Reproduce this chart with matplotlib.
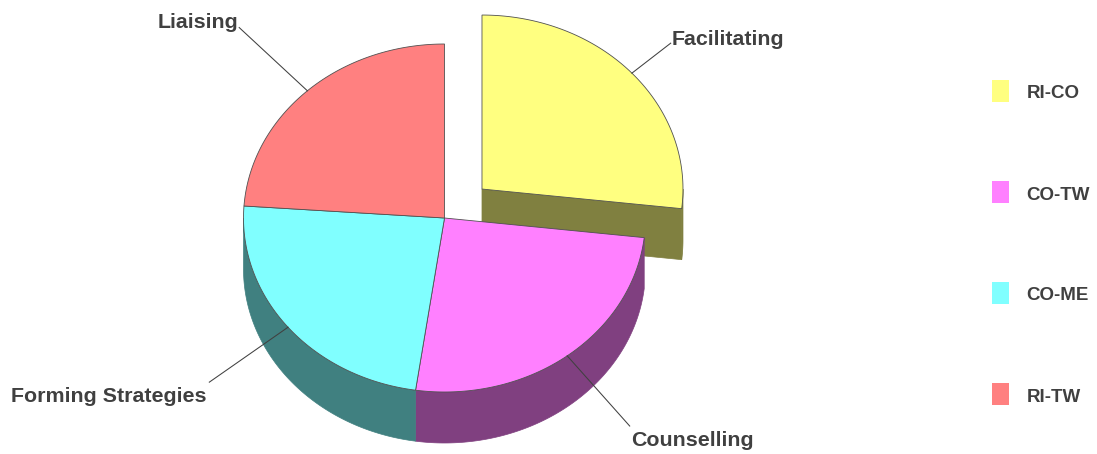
import numpy as np
import matplotlib
matplotlib.use('Agg')
import matplotlib.pyplot as plt
from matplotlib.patches import Polygon, Rectangle

# ---- data ----
categories = ['Facilitating', 'Counselling', 'Forming Strategies', 'Liaising']
legend_labels = ['RI-CO', 'CO-TW', 'CO-ME', 'RI-TW']
values = [26.8, 25.5, 23.8, 23.9]
explode = [0.25, 0, 0, 0]
top_colors = ['#FFFF80', '#FF80FF', '#80FFFF', '#FF8080']
side_colors = ['#808040', '#804080', '#408080', '#804040']

# ---- layout ----
W, H = 1097, 454
fig = plt.figure(figsize=(W / 100, H / 100), dpi=100)
ax = fig.add_axes([0, 0, 1, 1])
ax.set_xlim(0, W)
ax.set_ylim(H, 0)
ax.axis('off')

cx, cy, rx, ry, depth = 444.5, 218, 201, 174, 51
text_color = '#404040'
font = 'Liberation Sans'
edge_kw = dict(edgecolor='#505050', linewidth=0.6)


def arc(t0, t1, ox, oy, dz=0, n=120):
    t = np.radians(np.linspace(t0, t1, n))
    return np.column_stack([ox + rx * np.sin(t), oy - ry * np.cos(t) + dz])


fracs = np.array(values) / np.sum(values)
bounds = np.concatenate([[0], np.cumsum(fracs) * 360])

slices = []
for i in range(len(values)):
    s, e = bounds[i], bounds[i + 1]
    mid = np.radians((s + e) / 2)
    ox = cx + explode[i] * rx * np.sin(mid)
    oy = cy - explode[i] * ry * np.cos(mid)
    slices.append((i, s, e, ox, oy))


def draw_sides(i, s, e, ox, oy, radial=True):
    # radial faces
    if radial:
        for ang, nrm in ((s, s - 90), (e, e + 90)):
            if -np.cos(np.radians(nrm)) > 1e-6:
                p = arc(ang, ang, ox, oy, n=1)[0]
                poly = [(ox, oy), tuple(p), (p[0], p[1] + depth), (ox, oy + depth)]
                ax.add_patch(Polygon(poly, closed=True, facecolor=side_colors[i],
                                     edgecolor=side_colors[i], linewidth=0.5))
    # outer wall (front half only)
    a0, a1 = max(s, 90), min(e, 270)
    if a1 > a0:
        top = arc(a0, a1, ox, oy)
        bot = arc(a1, a0, ox, oy, dz=depth)
        ax.add_patch(Polygon(np.vstack([top, bot]), closed=True,
                             facecolor=side_colors[i], edgecolor=side_colors[i],
                             linewidth=0.5))


def draw_top(i, s, e, ox, oy):
    pts = np.vstack([[[ox, oy]], arc(s, e, ox, oy)])
    ax.add_patch(Polygon(pts, closed=True, facecolor=top_colors[i], **edge_kw))


# exploded slices first (behind)
for sl in slices:
    if explode[sl[0]] > 0:
        draw_sides(*sl)
        draw_top(*sl)
for sl in slices:
    if explode[sl[0]] == 0:
        draw_sides(*sl, radial=False)
for sl in slices:
    if explode[sl[0]] == 0:
        draw_top(*sl)

# ---- leader lines and labels ----
leader_len = [49, 94, 96, 93]
label_off = [(1, 2, 'left'), (1, 20, 'left'), (-3, 20, 'right'), (-1, 0, 'right')]
for (i, s, e, ox, oy) in slices:
    mid = np.radians((s + e) / 2)
    p0 = np.array([ox + rx * np.sin(mid), oy - ry * np.cos(mid)])
    d = np.array([rx * np.sin(mid), -ry * np.cos(mid)])
    d = d / np.linalg.norm(d)
    p1 = p0 + leader_len[i] * d
    ax.plot([p0[0], p1[0]], [p0[1], p1[1]], color='#404040', linewidth=0.75)
    dx, dy, ha = label_off[i]
    ax.text(p1[0] + dx, p1[1] + dy, categories[i], ha=ha, va='baseline',
            fontsize=15.4, fontweight='bold', family=font, color=text_color)

# ---- legend ----
leg_x, leg_y0, leg_step = 991.5, 79.5, 101
for k, lab in enumerate(legend_labels):
    y = leg_y0 + k * leg_step
    ax.add_patch(Rectangle((leg_x, y), 17.5, 22.5, facecolor=top_colors[k],
                           edgecolor='none'))
    ax.text(1026.5, y + 19, lab, ha='left', va='baseline', fontsize=13.5,
            fontweight='bold', family=font, color=text_color)

fig.savefig('out.png', dpi=100)
